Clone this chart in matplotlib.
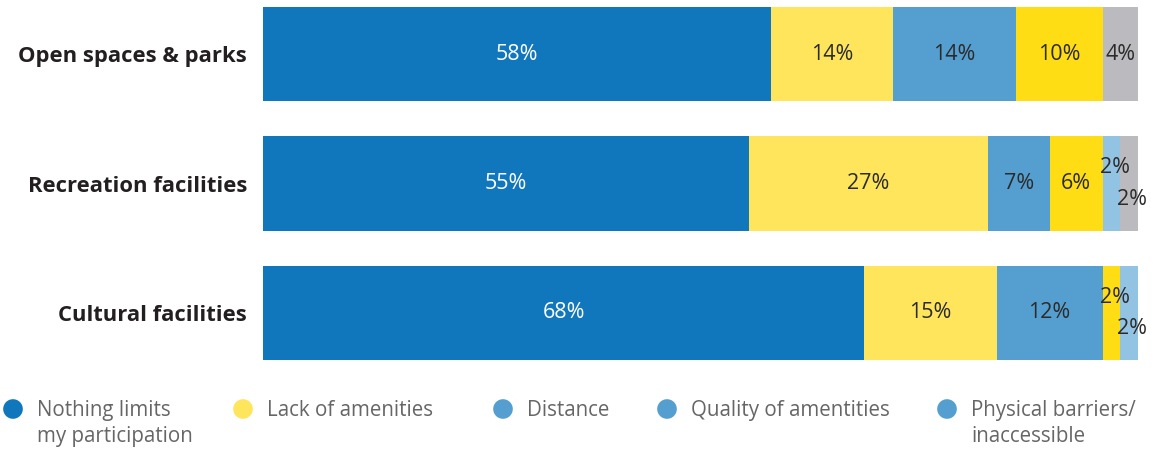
import matplotlib.pyplot as plt
import numpy as np

plt.rcParams['font.family'] = ['Open Sans', 'DejaVu Sans']

categories = ['Open spaces & parks', 'Recreation facilities', 'Cultural facilities']
series = ['Nothing limits\nmy participation', 'Lack of amenities', 'Distance',
          'Quality of amentities', 'Physical barriers/\ninaccessible', 'Other']

# percentages per category, one list per series
nothing = [58, 55, 68]
lack = [14, 27, 15]
distance = [14, 7, 12]
quality = [10, 6, 2]
barriers = [0, 2, 2]
other = [4, 2, 0]

values = np.array([nothing, lack, distance, quality, barriers, other], dtype=float)
bar_colors = ['#1177bd', '#ffe55c', '#559fd0', '#ffdd15', '#93c3e3', '#bbbbbf']
legend_colors = ['#1177bd', '#ffe55c', '#559fd0', '#559fd0', '#559fd0']

fig = plt.figure(figsize=(11.65, 4.49), dpi=100)
ax = fig.add_axes([263 / 1165, 1 - 360 / 449, 875 / 1165, 353 / 449])

y = np.arange(len(categories))
totals = values.sum(axis=0)
shares = values / totals * 100  # rows scaled to fill 100%
left = np.zeros(len(categories))
bar_h = 0.726

for i, (row, share) in enumerate(zip(values, shares)):
    ax.barh(y, share, left=left, height=bar_h, color=bar_colors[i], edgecolor='none')
    for j in range(len(categories)):
        v = row[j]
        if v <= 0:
            continue
        cx = left[j] + share[j] / 2
        cy = y[j]
        if v < 3:
            # tiny segments: stagger the labels up/down
            small_before = sum(1 for k in range(i) if 0 < values[k, j] < 3)
            cx += 0.35
            cy += -0.12 if small_before == 0 else 0.12
        col = 'white' if i == 0 else '#2b2b2b'
        ax.text(cx, cy, f'{int(v)}%', ha='center', va='center', fontsize=15.5, color=col)
    left += share

ax.set_xlim(0, 100)
ax.set_ylim(len(categories) - 1 + bar_h / 2, -bar_h / 2)
ax.set_yticks(y)
ax.set_yticklabels(categories, fontsize=15.8, fontweight='bold', color='#231f20')
ax.tick_params(axis='y', length=0, pad=11.5)
ax.set_xticks([])
for s in ax.spines.values():
    s.set_visible(False)

# legend row along the bottom
lax = fig.add_axes([0, 0, 1, 1])
lax.set_xlim(0, 1165)
lax.set_ylim(449, 0)
lax.axis('off')
legend_x = [13, 243, 503, 667, 947]
for x0, lab, c in zip(legend_x, series[:5], legend_colors):
    lax.scatter([x0], [409], s=200, color=c, edgecolor='none')
    lax.text(x0 + 24, 400, lab, ha='left', va='top', fontsize=14.8,
             color='#666666', linespacing=1.3)

plt.savefig('out.png', dpi=100)
